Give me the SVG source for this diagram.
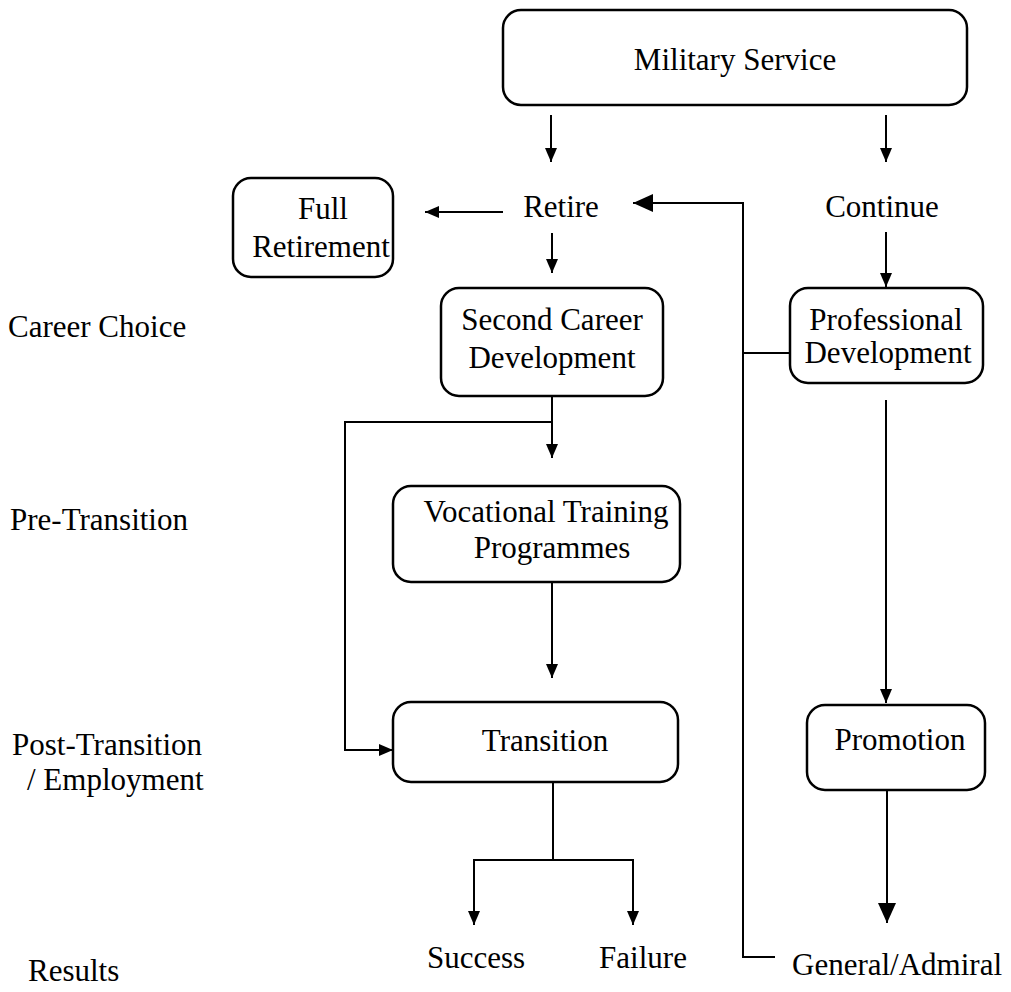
<svg xmlns="http://www.w3.org/2000/svg" width="1011" height="992" viewBox="0 0 1011 992">
  <style>
    .box { fill: #fff; stroke: #000; stroke-width: 2.5; }
    .ln { fill: none; stroke: #000; stroke-width: 2; }
    text { font-family: "Liberation Serif", "Times New Roman", serif; font-size: 31px; fill: #000; }
    .c { text-anchor: middle; }
  </style>
  <defs>
    <marker id="arr" markerUnits="userSpaceOnUse" markerWidth="14" markerHeight="12" refX="14" refY="6" orient="auto">
      <path d="M0,0 L14,6 L0,12 z" fill="#000"/>
    </marker>
    <marker id="arrL" markerUnits="userSpaceOnUse" markerWidth="20" markerHeight="18" refX="20" refY="9" orient="auto">
      <path d="M0,0 L20,9 L0,18 z" fill="#000"/>
    </marker>
  </defs>
  <rect width="1011" height="992" fill="#fff"/>

  <!-- stage labels down the left side -->
  <g id="stage-labels">
    <text x="8" y="337">Career Choice</text>
    <text x="10" y="530">Pre-Transition</text>
    <text x="12" y="755">Post-Transition</text>
    <text x="27" y="790">/ Employment</text>
    <text x="28" y="981">Results</text>
  </g>

  <!-- connectors -->
  <g id="connectors">
    <line class="ln" x1="551" y1="115" x2="551" y2="162" marker-end="url(#arr)"/>
    <line class="ln" x1="886" y1="115" x2="886" y2="162" marker-end="url(#arr)"/>
    <line class="ln" x1="503" y1="212" x2="425" y2="212" marker-end="url(#arr)"/>
    <line class="ln" x1="552" y1="233" x2="552" y2="273" marker-end="url(#arr)"/>
    <line class="ln" x1="886" y1="232" x2="886" y2="287" marker-end="url(#arr)"/>
    <!-- feedback path from General/Admiral back to Retire -->
    <polyline class="ln" points="775,957 743,957 743,203 633,203" marker-end="url(#arrL)"/>
    <line class="ln" x1="743" y1="353" x2="790" y2="353"/>
    <!-- second career branch -->
    <line class="ln" x1="552" y1="396" x2="552" y2="458" marker-end="url(#arr)"/>
    <polyline class="ln" points="552,422 345,422 345,750 393,750" marker-end="url(#arr)"/>
    <line class="ln" x1="552" y1="582" x2="552" y2="678" marker-end="url(#arr)"/>
    <!-- transition outcomes -->
    <line class="ln" x1="553" y1="782" x2="553" y2="860"/>
    <polyline class="ln" points="553,860 474,860 474,925" marker-end="url(#arr)"/>
    <polyline class="ln" points="553,860 633,860 633,925" marker-end="url(#arr)"/>
    <!-- professional track -->
    <line class="ln" x1="886" y1="400" x2="886" y2="703" marker-end="url(#arr)"/>
    <line class="ln" x1="887" y1="790" x2="887" y2="923" marker-end="url(#arrL)"/>
  </g>

  <g id="military-service">
    <rect class="box" x="503" y="10" width="464" height="95" rx="18"/>
    <text class="c" x="735" y="70">Military Service</text>
  </g>
  <g id="retire">
    <text class="c" x="561" y="217">Retire</text>
  </g>
  <g id="continue">
    <text class="c" x="882" y="217">Continue</text>
  </g>
  <g id="full-retirement">
    <rect class="box" x="233" y="178" width="160" height="99" rx="18"/>
    <text class="c" x="323" y="219">Full</text>
    <text class="c" x="321" y="257">Retirement</text>
  </g>
  <g id="second-career">
    <rect class="box" x="441" y="288" width="222" height="108" rx="18"/>
    <text class="c" x="552" y="330">Second Career</text>
    <text class="c" x="552" y="368">Development</text>
  </g>
  <g id="professional-development">
    <rect class="box" x="790" y="288" width="193" height="95" rx="18"/>
    <text class="c" x="886" y="330">Professional</text>
    <text class="c" x="888" y="363">Development</text>
  </g>
  <g id="vocational-training">
    <rect class="box" x="393" y="486" width="287" height="96" rx="18"/>
    <text class="c" x="546" y="522">Vocational Training</text>
    <text class="c" x="552" y="558">Programmes</text>
  </g>
  <g id="transition">
    <rect class="box" x="393" y="702" width="285" height="80" rx="18"/>
    <text class="c" x="545" y="751">Transition</text>
  </g>
  <g id="promotion">
    <rect class="box" x="807" y="705" width="178" height="85" rx="18"/>
    <text class="c" x="900" y="750">Promotion</text>
  </g>
  <g id="success">
    <text class="c" x="476" y="968">Success</text>
  </g>
  <g id="failure">
    <text class="c" x="643" y="968">Failure</text>
  </g>
  <g id="general-admiral">
    <text x="792" y="975">General/Admiral</text>
  </g>
</svg>
